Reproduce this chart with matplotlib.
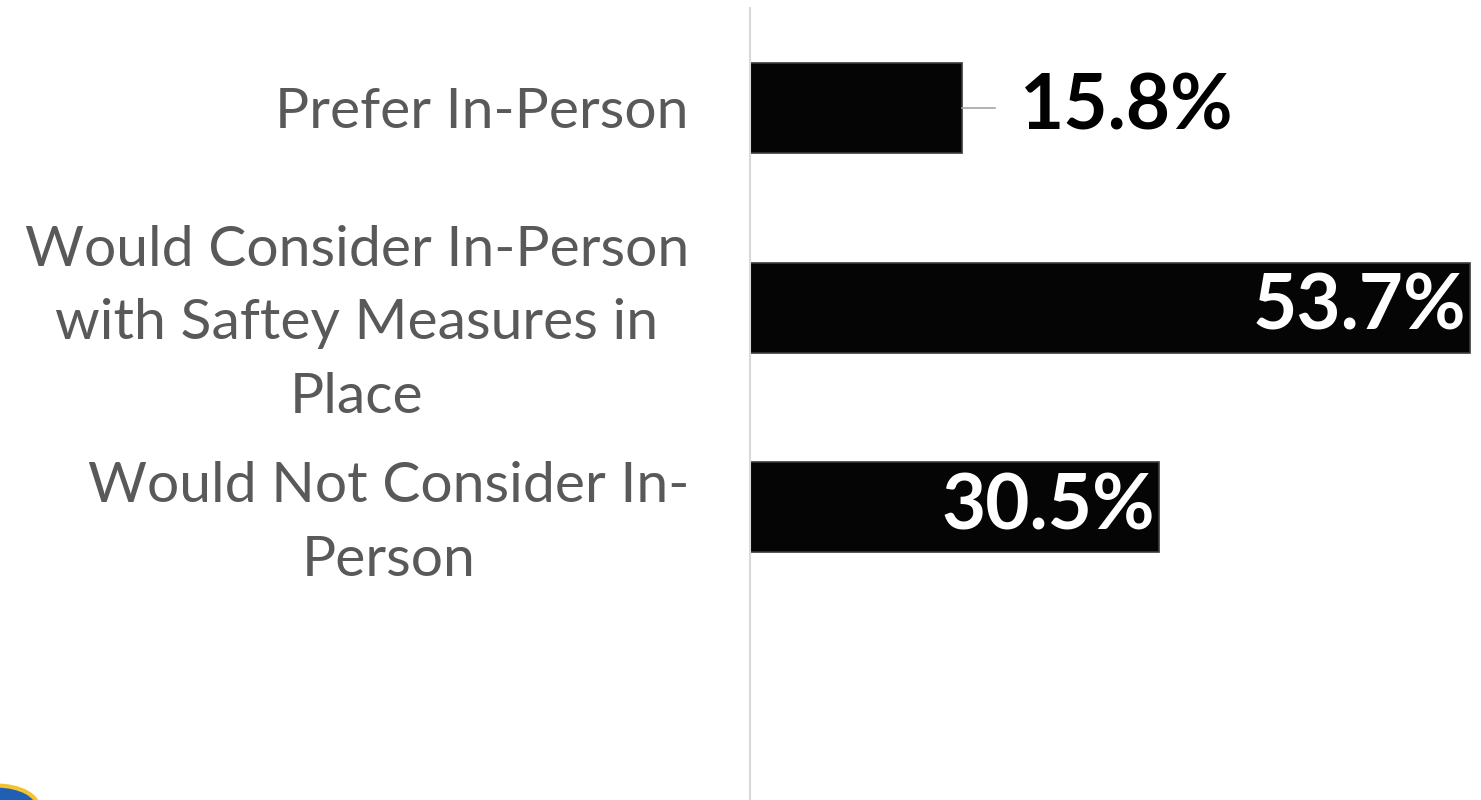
import matplotlib.pyplot as plt
import matplotlib.patches as mpatches

categories = ["Prefer In-Person",
              "Would Consider In-Person\nwith Saftey Measures in\nPlace",
              "Would Not Consider In-\nPerson"]
values = [15.8, 53.7, 30.5]
inside = [False, True, True]

fig = plt.figure(figsize=(14.81, 8), dpi=100)
ax = fig.add_axes([750 / 1481, 0, 731 / 1481, 792 / 800])

ypos = list(range(len(values)))
bars = ax.barh(ypos, values, height=0.45, color="#050505",
               edgecolor="#3a3a3a", linewidth=1.2)

ax.set_xlim(0, 54.5)
ax.set_ylim(3.465, -0.5)

for i, v in enumerate(values):
    label = f"{v}%"
    if inside[i]:
        ax.text(v - 0.3, i, label, ha="right", va="center", color="white",
                fontsize=55, fontweight="bold", family="Lato")
    else:
        ax.plot([v, v + 2.5], [i, i], color="#a6a6a6", lw=1.2)
        ax.text(v + 4.3, i, label, ha="left", va="center", color="black",
                fontsize=55, fontweight="bold", family="Lato")

ax.set_yticks(ypos)
ax.set_yticklabels(categories, fontsize=41, color="#595959", family="Lato",
                   multialignment="center", linespacing=1.55)
ax.tick_params(axis="y", length=0, pad=44)
ax.set_xticks([])
for s in ["top", "right", "bottom"]:
    ax.spines[s].set_visible(False)
ax.spines["left"].set_color("#d9d9d9")
ax.spines["left"].set_linewidth(1.5)

# partial logo in the lower left corner
logo = mpatches.Circle((-0.002, -0.01), 0.028, transform=fig.transFigure,
                       facecolor="#1f5fb4", edgecolor="#f3c230", linewidth=3,
                       clip_on=False)
fig.patches.append(logo)

fig.savefig("out.png", dpi=100)
